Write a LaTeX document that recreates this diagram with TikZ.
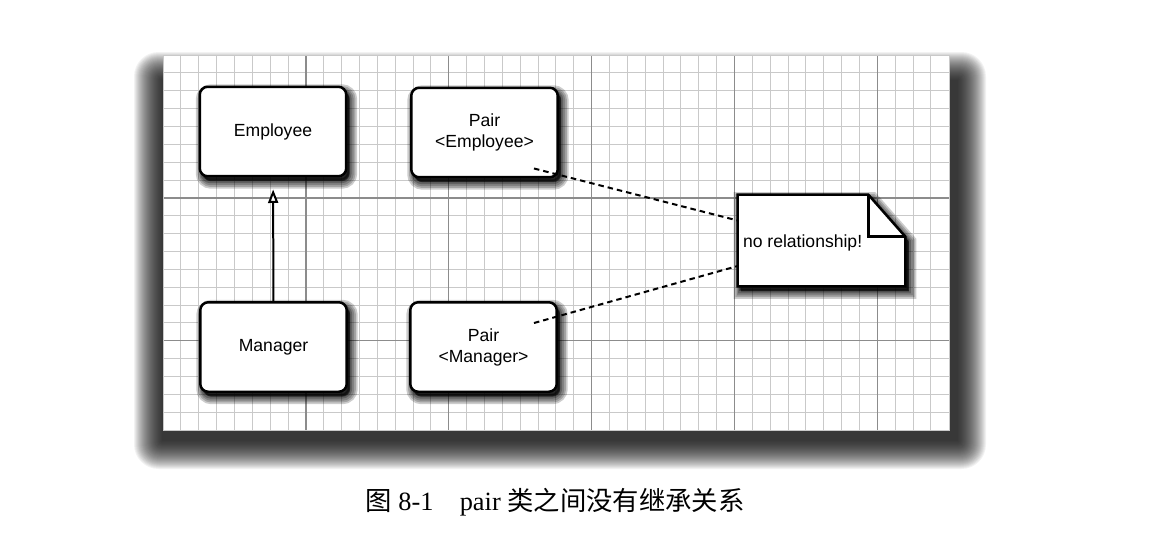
\documentclass[tikz,border=0pt]{standalone}
\usepackage{fontspec}
\setmainfont{Liberation Serif}
\setsansfont{Liberation Sans}
\newfontfamily\cjk{Noto Sans CJK SC}
\usetikzlibrary{arrows.meta,shadows}

\begin{document}
\begin{tikzpicture}[x=0.02cm, y=-0.02cm]
	\tikzstyle{gridminor} = [draw=black!21, line width=0.02cm];
	\tikzstyle{gridmajor} = [draw=black!45, line width=0.025cm];
	\tikzstyle{softshadow} = [
		general shadow={shadow xshift=0.07cm, shadow yshift=-0.1cm, fill=black, draw=black, line width=0.3cm, opacity=0.2},
		general shadow={shadow xshift=0.07cm, shadow yshift=-0.1cm, fill=black, draw=black, line width=0.23cm, opacity=0.2},
		general shadow={shadow xshift=0.07cm, shadow yshift=-0.1cm, fill=black, draw=black, line width=0.16cm, opacity=0.2},
		general shadow={shadow xshift=0.06cm, shadow yshift=-0.09cm, fill=black, draw=black, line width=0.1cm, opacity=0.25},
		general shadow={shadow xshift=0.05cm, shadow yshift=-0.07cm, fill=black, draw=black, line width=0.04cm, opacity=0.3}];
	\tikzstyle{class} = [draw, line width=0.05cm, rounded corners=0.16cm, fill=white, minimum width=2.93cm, minimum height=1.79cm, align=center, font={\sffamily}, softshadow];
	\tikzstyle{notearea} = [rectangle, minimum width=3.34cm, minimum height=1.82cm, inner sep=0pt];
	\tikzstyle{notebox} = [draw, line width=0.05cm, fill=white, softshadow];
	\tikzstyle{isa} = [-{Triangle[open, fill=white, length=0.27cm, width=0.2cm]}, line width=0.04cm, shorten >=0.24cm];
	\tikzstyle{nolink} = [line width=0.04cm, dash pattern=on 0.11cm off 0.08cm];
	\tikzstyle{caption} = [font={\fontsize{15}{18}\selectfont}];

	\useasboundingbox (0,0) rectangle (1167,535);

	% paper shadow and grid
	\foreach \r in {28,27,...,0}
		\fill[black, opacity=0.05, rounded corners=\r*0.5pt] ({162-\r},{80-\r}) rectangle ({958+\r},{441+\r});
	\fill[white] (163,55) rectangle (949,430);
	\foreach \i in {1,...,43}
		\draw[gridminor] ({163+17.86*\i},55) -- ({163+17.86*\i},430);
	\foreach \j in {1,...,20}
		\draw[gridminor] (163,{55+17.86*\j}) -- (949,{55+17.86*\j});
	\foreach \i in {1,...,5}
		\draw[gridmajor] ({163+142.9*\i},55) -- ({163+142.9*\i},430);
	\foreach \j in {1,2}
		\draw[gridmajor] (163,{55+142.9*\j}) -- (949,{55+142.9*\j});
	\draw[gridminor] (163,55) rectangle (949,430);

	% classes
	\node[class] (employee) at (273,131.5) {Employee};
	\node[class] (pairemp) at (484.5,132.5) {Pair\\\textless Employee\textgreater};
	\node[class] (manager) at (273.5,347) {Manager};
	\node[class] (pairman) at (483.5,347) {Pair\\\textless Manager\textgreater};

	\draw[isa] (manager) -- (employee);

	% note
	\node[notearea] (note) at (821.5,240.5) {};
	\draw[notebox] (note.north west) -- ([xshift=-0.74cm]note.north east) -- ([yshift=-0.84cm]note.north east)
		-- (note.south east) -- (note.south west) -- cycle;
	\draw[line width=0.05cm] ([xshift=-0.74cm]note.north east) |- ([yshift=-0.84cm]note.north east);
	\node[anchor=west, font={\sffamily}, inner sep=0pt] (notetext) at ([xshift=0.1cm,yshift=-0.05cm]note.west) {no relationship!};

	\draw[nolink] ([xshift=-0.5cm,yshift=0.2cm]pairemp.south east) -- ([yshift=0.4cm]note.west);
	\draw[nolink] ([xshift=-0.48cm,yshift=0.48cm]pairman.east) -- ([yshift=-0.51cm]note.west);

	\node[caption] (title) at (555,502) {{\cjk 图} 8-1\quad pair {\cjk 类之间没有继承关系}};
\end{tikzpicture}
\end{document}
